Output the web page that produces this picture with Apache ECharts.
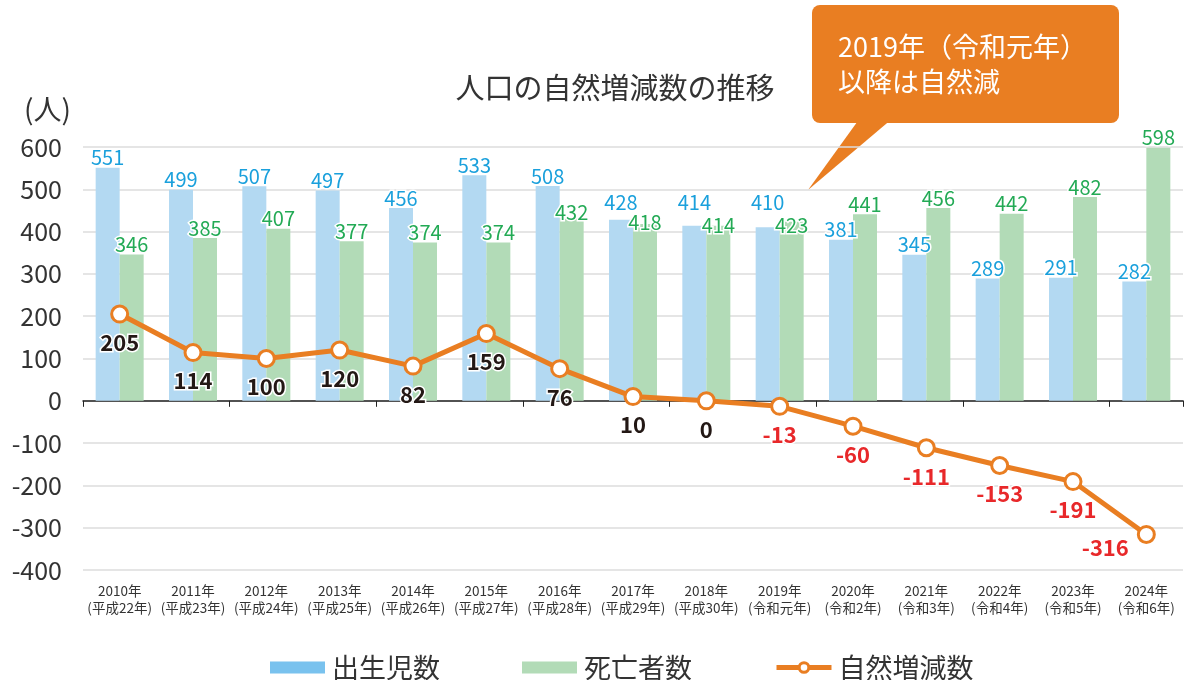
<!DOCTYPE html>
<html>
<head>
<meta charset="utf-8">
<script src="https://cdn.jsdelivr.net/npm/echarts@6/dist/echarts.min.js"></script>
<style>
html,body{margin:0;padding:0;background:#fff;}
#main{width:1184px;height:680px;}
</style>
</head>
<body>
<div id="main"></div>
<script>
var years = ['2010年\n(平成22年)','2011年\n(平成23年)','2012年\n(平成24年)','2013年\n(平成25年)','2014年\n(平成26年)',
	'2015年\n(平成27年)','2016年\n(平成28年)','2017年\n(平成29年)','2018年\n(平成30年)','2019年\n(令和元年)',
	'2020年\n(令和2年)','2021年\n(令和3年)','2022年\n(令和4年)','2023年\n(令和5年)','2024年\n(令和6年)'];
var births = [551, 499, 507, 497, 456, 533, 508, 428, 414, 410, 381, 345, 289, 291, 282];
var deaths = [346, 385, 407, 377, 374, 374, 432, 418, 414, 423, 441, 456, 442, 482, 598];
var natural = [205, 114, 100, 120, 82, 159, 76, 10, 0, -13, -60, -111, -153, -191, -316];

var FONT = '"Noto Sans CJK JP", "Noto Sans", sans-serif';
var ORANGE = '#E97E22';

(function(){
	var chart = echarts.init(document.getElementById('main'));

	// ラベルの重なり回避（元図の手調整に合わせる）
	var birthShift = { 7: -7, 8: -13, 9: -15 };
	var deathShift = { 6: 4, 7: 8, 8: 10, 9: 14 };

	var birthData = births.map(function(v, i){
		return birthShift[i] ? { value: v, label: { offset: [0, birthShift[i]] } } : v;
	});
	var deathData = deaths.map(function(v, i){
		return deathShift[i] ? { value: v, label: { offset: [0, deathShift[i]] } } : v;
	});
	var naturalData = natural.map(function(v, i){
		var lb = { color: v < 0 ? '#E8282A' : '#231815' };
		if (i === natural.length - 1) {
			lb.position = 'left';
			lb.distance = 10;
			lb.offset = [2, 13];
		}
		return { value: v, label: lb };
	});

	var barLabel = function(color){
		return {
			show: true, position: 'top', distance: 0,
			fontSize: 20, color: color, fontFamily: FONT,
			textBorderColor: '#fff', textBorderWidth: 3
		};
	};

	var option = {
		textStyle: { fontFamily: FONT },
		animation: false,
		title: {
			text: '人口の自然増減数の推移',
			left: 610, top: 68, textAlign: 'center',
			textStyle: { fontSize: 29, fontWeight: 'normal', color: '#333', fontFamily: FONT }
		},
		legend: {
			top: 649, left: 265,
			itemWidth: 55, itemHeight: 12, itemGap: 82,
			textStyle: { fontSize: 27, color: '#333', fontFamily: FONT, padding: [0, 0, 0, 2] },
			data: [
				{ name: '出生児数', icon: 'rect', itemStyle: { color: '#79C2EE' } },
				{ name: '死亡者数', icon: 'rect', itemStyle: { color: '#B2DBB7' } },
				{ name: '自然増減数', lineStyle: { width: 5 }, itemStyle: { borderWidth: 3 } }
			]
		},
		grid: { left: 83, right: 1, top: 147, bottom: 110 },
		xAxis: [
			{
				type: 'category', data: years,
				axisLine: { onZero: true, lineStyle: { color: '#222', width: 1.5 } },
				axisTick: { show: true, length: 6, lineStyle: { color: '#222' } },
				axisLabel: { show: false }
			},
			{
				type: 'category', data: years, position: 'bottom',
				axisLine: { show: false, onZero: false },
				axisTick: { show: false },
				axisLabel: { fontSize: 13.5, lineHeight: 17, color: '#333', margin: 12, interval: 0, fontFamily: FONT }
			}
		],
		yAxis: {
			type: 'value', min: -400, max: 600, interval: 100,
			axisLine: { show: false }, axisTick: { show: false },
			axisLabel: { fontSize: 25, color: '#333', margin: 21, fontFamily: FONT },
			splitLine: { lineStyle: { color: '#dcdcdc', width: 1.5 } },
			name: '(人)', nameLocation: 'end', nameGap: 24,
			nameTextStyle: { fontSize: 28, color: '#333', align: 'right', padding: [0, 12, 0, 0], fontFamily: FONT }
		},
		series: [
			{
				name: '出生児数', type: 'bar', data: birthData,
				barWidth: 24, barGap: '0%',
				itemStyle: { color: '#B3D9F2' },
				label: barLabel('#1AA0DC')
			},
			{
				name: '死亡者数', type: 'bar', data: deathData,
				barWidth: 24,
				itemStyle: { color: '#B2DBB7' },
				label: barLabel('#23AA55')
			},
			{
				name: '自然増減数', type: 'line', data: naturalData,
				symbol: 'circle', symbolSize: 16,
				lineStyle: { color: ORANGE, width: 5 },
				itemStyle: { color: '#fff', borderColor: ORANGE, borderWidth: 3 },
				label: {
					show: true, position: 'bottom', distance: 8,
					fontSize: 22, fontWeight: 'bold', fontFamily: FONT,
					textBorderColor: '#fff', textBorderWidth: 3
				},
				z: 5
			}
		],
		graphic: [
			{
				type: 'group', z: 100,
				children: [
					{ type: 'polygon', shape: { points: [[860, 118], [893, 118], [808, 190]] }, style: { fill: ORANGE } },
					{ type: 'rect', shape: { x: 812, y: 5, width: 307, height: 118, r: 8 }, style: { fill: ORANGE } },
					{ type: 'text', left: 838, top: 29, style: { text: '2019年（令和元年）\n以降は自然減', fill: '#fff', fontSize: 27, lineHeight: 35, fontFamily: FONT } }
				]
			}
		]
	};
	chart.setOption(option);
})();
</script>
</body>
</html>
